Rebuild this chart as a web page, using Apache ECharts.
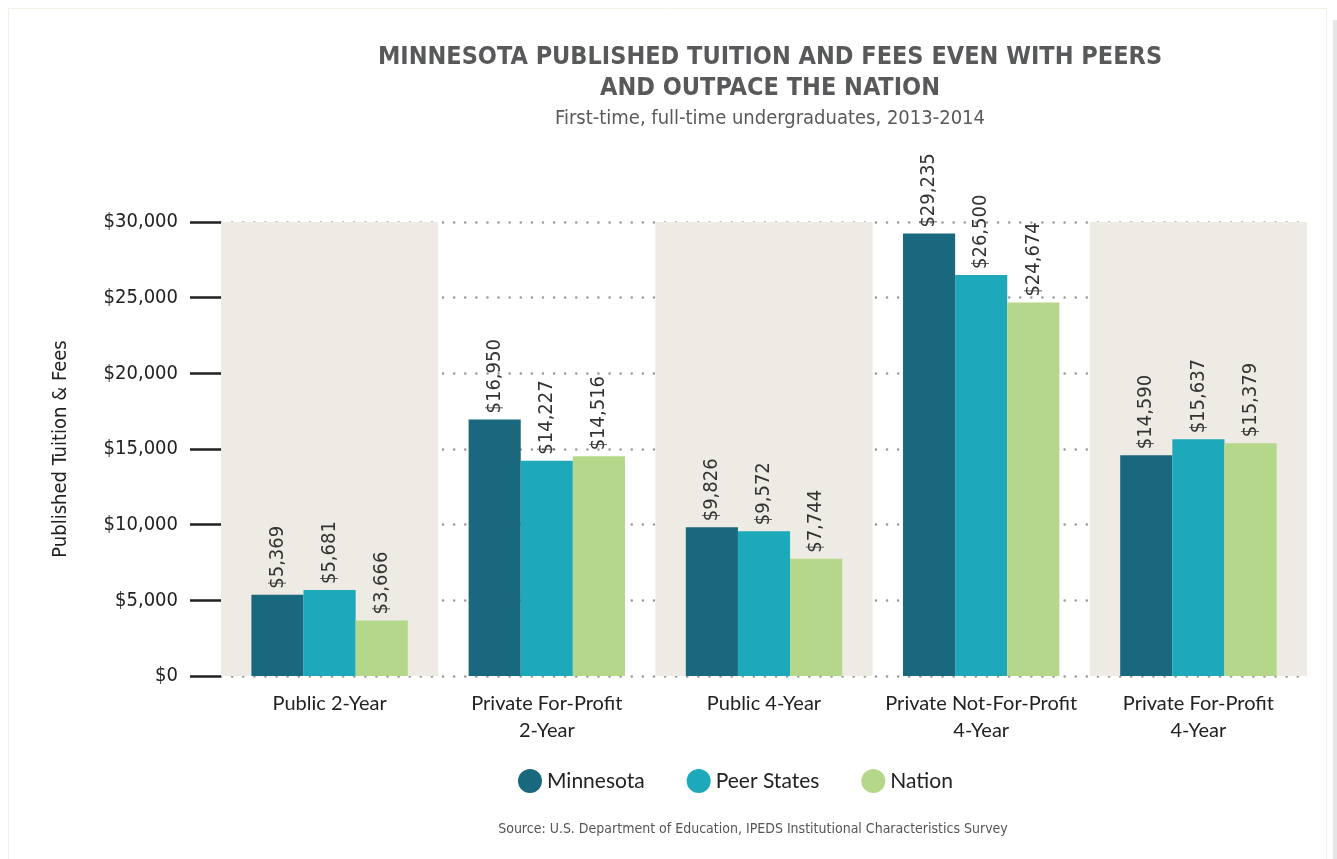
<!DOCTYPE html>
<html>
<head>
<meta charset="utf-8">
<script src="https://cdn.jsdelivr.net/npm/echarts@6/dist/echarts.min.js"></script>
<style>
  html, body { margin: 0; padding: 0; background: #fff; }
  #main { width: 1337px; height: 859px; }
</style>
</head>
<body>
<div id="main"></div>
<script>
var categories = ['Public 2-Year', 'Private For-Profit\n2-Year', 'Public 4-Year', 'Private Not-For-Profit\n4-Year', 'Private For-Profit\n4-Year'];
var minnesota = [5369, 16950, 9826, 29235, 14590];
var peerStates = [5681, 14227, 9572, 26500, 15637];
var nation = [3666, 14516, 7744, 24674, 15379];
var yTicks = [0, 5000, 10000, 15000, 20000, 25000, 30000];

var narrow = '"Liberation Sans Narrow", "DejaVu Sans Condensed", sans-serif';
var plain = '"Lato", "Liberation Sans", sans-serif';

function money(v) {
  return '$' + v.toLocaleString('en-US');
}

var barLabel = {
  show: true,
  position: 'top',
  rotate: 90,
  align: 'left',
  verticalAlign: 'middle',
  distance: 6,
  fontFamily: narrow,
  fontSize: 20,
  color: '#333',
  formatter: function (p) { return money(p.value); }
};

function makeSeries(name, data, color) {
  return {
    name: name,
    type: 'bar',
    data: data,
    barGap: '0%',
    barCategoryGap: '28%',
    itemStyle: { color: color },
    label: barLabel
  };
}

var chart = echarts.init(document.getElementById('main'));
chart.setOption({
  animation: false,
  title: {
    left: 765,
    top: 37,
    textAlign: 'center',
    text: 'MINNESOTA PUBLISHED TUITION AND FEES EVEN WITH PEERS\nAND OUTPACE THE NATION',
    textStyle: { fontFamily: narrow, fontWeight: 'bold', fontSize: 25, lineHeight: 31, color: '#58595b' },
    subtext: 'First-time, full-time undergraduates, 2013-2014',
    subtextStyle: { fontFamily: narrow, fontSize: 20, color: '#58595b' },
    itemGap: 5
  },
  legend: {
    left: 513,
    top: 764,
    icon: 'circle',
    itemWidth: 24,
    itemHeight: 24,
    itemGap: 42,
    textStyle: { fontFamily: plain, fontSize: 21, color: '#222' },
    data: ['Minnesota', 'Peer States', 'Nation']
  },
  grid: { left: 221, right: 30, top: 222, bottom: 183 },
  xAxis: {
    type: 'category',
    data: categories,
    axisLine: { show: false },
    axisTick: { show: false, interval: 0 },
    axisLabel: { interval: 0, margin: 14, fontFamily: plain, fontSize: 20, lineHeight: 27, color: '#222' },
    splitArea: { show: true, interval: 0, areaStyle: { color: ['#eeebe4', 'rgba(255,255,255,0)'] } }
  },
  yAxis: {
    type: 'value',
    min: 0,
    max: 30000,
    interval: 5000,
    name: 'Published Tuition & Fees',
    nameLocation: 'middle',
    nameGap: 150,
    nameTextStyle: { fontFamily: narrow, fontSize: 20, color: '#222' },
    axisLine: { show: false },
    axisTick: { show: true, inside: false, length: 31, lineStyle: { color: '#222', width: 2.5 } },
    axisLabel: {
      margin: 43,
      fontFamily: narrow,
      fontSize: 20,
      color: '#222',
      formatter: function (v) { return yTicks.indexOf(v) >= 0 ? money(v) : ''; }
    },
    splitLine: { show: true, lineStyle: { color: '#9a9a9a', width: 2.5, type: [0.1, 11], cap: 'round' } }
  },
  graphic: [
    {
      type: 'rect',
      shape: { x: 8.5, y: 8.5, width: 1318, height: 860 },
      style: { fill: 'none', stroke: '#eef3e4', lineWidth: 1 },
      silent: true
    },
    {
      type: 'rect',
      shape: { x: 1333, y: 20, width: 4, height: 839 },
      style: { fill: '#e6e6e6' },
      silent: true
    },
    {
      type: 'text',
      x: 753,
      y: 822,
      style: {
        text: 'Source: U.S. Department of Education, IPEDS Institutional Characteristics Survey',
        fontFamily: narrow,
        fontSize: 14,
        fill: '#555',
        textAlign: 'center'
      }
    }
  ],
  series: [
    makeSeries('Minnesota', minnesota, '#19687d'),
    makeSeries('Peer States', peerStates, '#1da9ba'),
    makeSeries('Nation', nation, '#b5d78a')
  ]
});
</script>
</body>
</html>
